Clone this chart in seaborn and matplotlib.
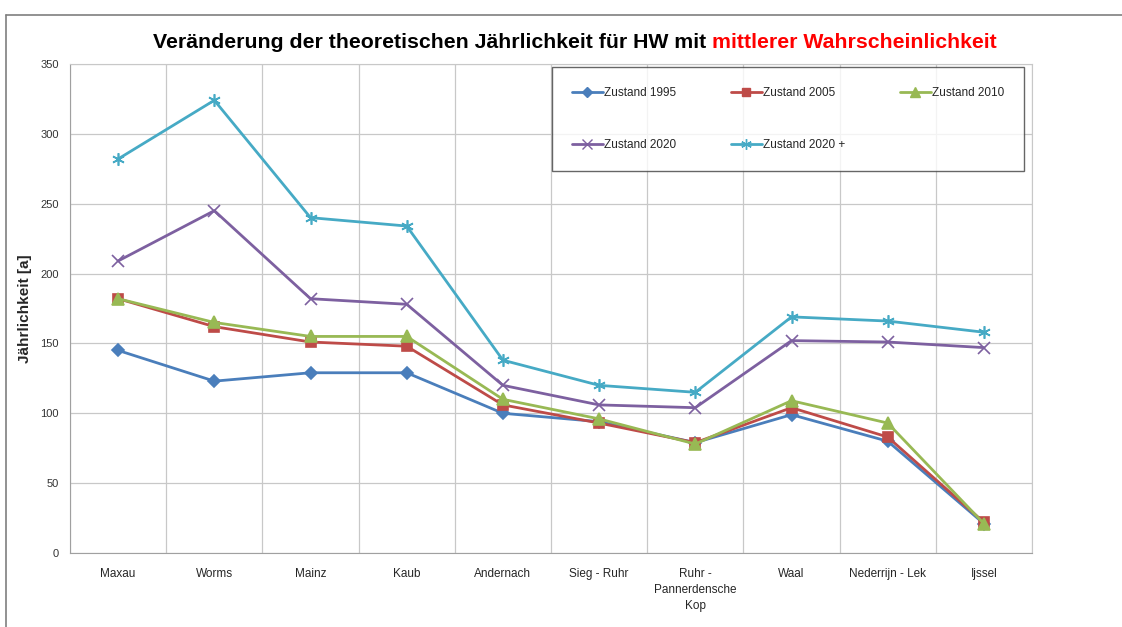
# Jährlichkeit der Hochwasser je Pegel und Zustand
import matplotlib
matplotlib.use("Agg")
import matplotlib.pyplot as plt
from matplotlib.lines import Line2D
import pandas as pd
import seaborn as sns

# pegel entlang rhein / niederlande
pegel = ["Maxau", "Worms", "Mainz", "Kaub", "Andernach", "Sieg - Ruhr",
         "Ruhr -\nPannerdensche\nKop", "Waal", "Nederrijn - Lek", "Ijssel"]

# werte
zustand_1995 = [145, 123, 129, 129, 100, 94, 79, 99, 80, 21]
zustand_2005 = [182, 162, 151, 148, 106, 93, 79, 104, 83, 22]
zustand_2010 = [182, 165, 155, 155, 110, 96, 78, 109, 93, 21]
zustand_2020 = [209, 245, 182, 178, 120, 106, 104, 152, 151, 147]
zustand_2020p = [282, 324, 240, 234, 138, 120, 115, 169, 166, 158]

namen = ["Zustand 1995", "Zustand 2005", "Zustand 2010", "Zustand 2020",
         "Zustand 2020 +"]
farben = ["#4A7EBB", "#BE4B48", "#98B954", "#7D60A0", "#46AAC5"]
marker = ["D", "s", "^", "x", (6, 2, 0)]
msize = [6, 7, 8, 8, 9]

# long format fuer seaborn
reihen = [zustand_1995, zustand_2005, zustand_2010, zustand_2020, zustand_2020p]
rows = []
for name, werte in zip(namen, reihen):
    for i, v in enumerate(werte):
        rows.append({"pos": i, "wert": v, "zustand": name})
df = pd.DataFrame(rows)

sns.set_style("white")
plt.rcParams["font.family"] = ["Liberation Sans", "DejaVu Sans"]

fig = plt.figure(figsize=(11.22, 6.27), dpi=100)
ax = fig.add_axes([0.0624, 0.118, 0.8574, 0.780])

for name, col, m, ms in zip(namen, farben, marker, msize):
    sns.lineplot(data=df[df["zustand"] == name], x="pos", y="wert", ax=ax,
                 color=col, marker=m, markersize=ms, linewidth=2.0,
                 markeredgecolor=col, markeredgewidth=1.2, label=name,
                 legend=False)

ax.set_xlim(-0.5, len(pegel) - 0.5)
ax.set_ylim(0, 350)
ax.set_yticks(range(0, 351, 50))
ax.set_xticks(range(len(pegel)))
ax.set_xticklabels(pegel, fontsize=8.5, linespacing=1.45)
ax.set_xticks([i - 0.5 for i in range(len(pegel) + 1)], minor=True)
ax.tick_params(axis="x", which="major", length=0, pad=11)
ax.tick_params(axis="x", which="minor", length=4, color="#a0a0a0")
ax.tick_params(axis="y", length=4, color="#a0a0a0", labelsize=8,
               labelcolor="#333333", pad=4)
ax.grid(True, axis="y", color="#c8c8c8", linewidth=0.9)
ax.grid(True, axis="x", which="minor", color="#c8c8c8", linewidth=0.9)
for s in ["left", "bottom"]:
    ax.spines[s].set_color("#a0a0a0")
for s in ["top", "right"]:
    ax.spines[s].set_color("#c8c8c8")
ax.set_xlabel("")
ax.set_ylabel("Jährlichkeit [a]", fontsize=11, fontweight="bold", labelpad=6)

# legende zeilenweise: matplotlib fuellt spaltenweise, daher umsortieren
reihenfolge = [0, 3, 1, 4, 2]
handles = [Line2D([], [], color=farben[i], marker=marker[i],
                  markersize=msize[i] * 0.85, markeredgecolor=farben[i],
                  linewidth=2.0) for i in reihenfolge]
labels = [namen[i] for i in reihenfolge]
leg = ax.legend(handles, labels, ncol=3, loc="upper left",
                bbox_to_anchor=(0.501, 0.993), fontsize=8.5, frameon=True,
                fancybox=False, edgecolor="#404040", borderpad=1.7,
                labelspacing=3.35, columnspacing=4.65, handlelength=2.6,
                handletextpad=0.1, borderaxespad=0)
leg.get_frame().set_linewidth(1.0)

# titel in zwei farben, zentriert bei x ~ 575 px
teil1 = "Veränderung der theoretischen Jährlichkeit für HW mit "
teil2 = "mittlerer Wahrscheinlichkeit"
t1 = fig.text(0, 0.932, teil1, fontsize=15.3, fontweight="bold",
              color="black", va="center")
t2 = fig.text(0, 0.932, teil2, fontsize=15.3, fontweight="bold",
              color="#FF0000", va="center")
fig.canvas.draw()
r = fig.canvas.get_renderer()
w1 = t1.get_window_extent(renderer=r).width
w2 = t2.get_window_extent(renderer=r).width
start = 575 - (w1 + w2) / 2
t1.set_x(start / fig.bbox.width)
t2.set_x((start + w1) / fig.bbox.width)

# rahmen oben und links
fig.add_artist(Line2D([0.005, 1.0], [0.976, 0.976], color="#7f7f7f",
                      linewidth=1.2, transform=fig.transFigure))
fig.add_artist(Line2D([0.005, 0.005], [0.0, 0.976], color="#7f7f7f",
                      linewidth=1.2, transform=fig.transFigure))

fig.savefig("out.png", dpi=100)
